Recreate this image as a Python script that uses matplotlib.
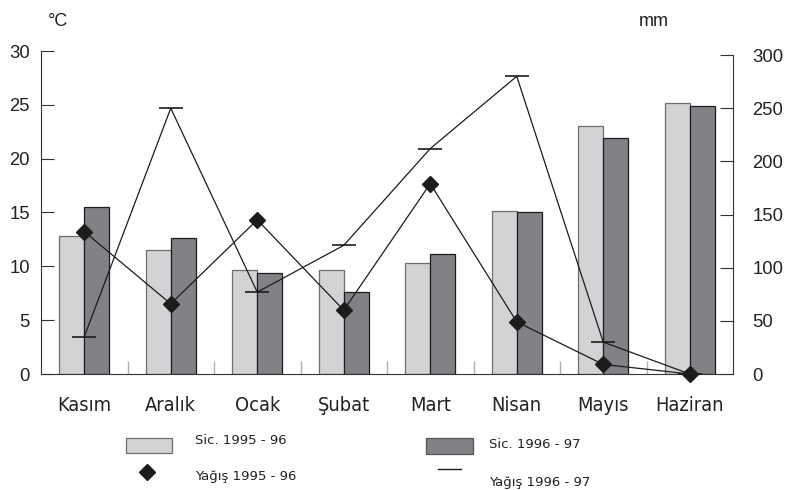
import matplotlib
matplotlib.use("Agg")
import matplotlib.pyplot as plt
import numpy as np
from matplotlib import font_manager
from matplotlib.lines import Line2D
from matplotlib.patches import Rectangle

# values
months = ["Kasım", "Aralık", "Ocak", "Şubat", "Mart", "Nisan", "Mayıs", "Haziran"]
temp_9596 = [12.8, 11.5, 9.7, 9.7, 10.3, 15.1, 23.0, 25.2]   # °C
temp_9697 = [15.5, 12.6, 9.4, 7.6, 11.1, 15.0, 21.9, 24.9]   # °C
rain_9596 = [134, 66, 145, 60, 179, 49, 9, 0]                # mm
rain_9697 = [35, 250, 77, 121, 212, 280, 30, 0]              # mm

LIGHT = "#d2d3d5"
DARK = "#818286"
INK = "#1c1c1c"
W, H = 788, 490

plt.rcParams["font.family"] = ["Liberation Sans", "DejaVu Sans"]


def fx(px):
    return px / W


def fy(py):
    return 1 - py / H


def month_font():
    # the month names are set in a narrow face; use one if the box has it
    for fam, stretch in (("Liberation Sans Narrow", "normal"), ("DejaVu Sans", "condensed")):
        try:
            path = font_manager.findfont(font_manager.FontProperties(family=fam, stretch=stretch),
                                         fallback_to_default=False)
        except ValueError:
            continue
        name = path.lower()
        if "narrow" in name or "condensed" in name:
            return font_manager.FontProperties(fname=path, size=14.3)
    return font_manager.FontProperties(family="Liberation Sans", size=13.5)


fig = plt.figure(figsize=(W / 100, H / 100), dpi=100)
ax = fig.add_axes([fx(41), fy(374), fx(733) - fx(41), fy(51) - fy(374)])
ax2 = ax.twinx()

x = np.arange(len(months))
bw = 0.29
ax.bar(x - bw / 2, temp_9596, bw, color=LIGHT, edgecolor="#6e6e6e", linewidth=0.9, zorder=2)
ax.bar(x + bw / 2, temp_9697, bw, color=DARK, edgecolor=INK, linewidth=0.9, zorder=2)

ax2.plot(x, rain_9697, color=INK, lw=0.9, marker="_", ms=17, mew=1.2, clip_on=False)
ax2.plot(x, rain_9596, color=INK, lw=0.9, marker="D", ms=8, mfc=INK, mec=INK, clip_on=False)

ax.set_xlim(-0.5, 7.5)
ax.set_ylim(0, 30)
ax2.set_ylim(0, 303.8)

for a in (ax, ax2):
    a.spines["top"].set_visible(False)
ax.spines["right"].set_visible(False)
ax2.spines["left"].set_visible(False)
ax2.spines["bottom"].set_visible(False)
ax.spines["left"].set_bounds(0, 30)
ax2.spines["right"].set_bounds(0, 300)
for sp in ("left", "bottom"):
    ax.spines[sp].set_color("#333333")
ax2.spines["right"].set_color("#333333")

ax.set_yticks(np.arange(0, 31, 5))
ax.tick_params(axis="y", direction="in", length=9.5, width=0.8, color="#333333",
               pad=8, labelsize=13.3, labelcolor="#222222")
ax2.set_yticks(np.arange(0, 301, 50))
ax2.tick_params(axis="y", direction="in", length=9.5, width=0.8, color="#333333",
                pad=14, labelsize=13.3, labelcolor="#222222")

ax.set_xticks(x)
ax.set_xticklabels(months, fontproperties=month_font())
ax.set_xticks(x[:-1] + 0.5, minor=True)
ax.tick_params(axis="x", which="major", length=0, pad=15.5, labelcolor="#222222")
ax.tick_params(axis="x", which="minor", direction="in", length=9.5, width=1.0, color="#b0b0b0")

fig.text(fx(48), fy(21), "°C", ha="left", va="center", size=13, color="#222222")
fig.text(fx(639), fy(22), "mm", ha="left", va="center", size=13, color="#222222")

# legend, laid out by hand like the original
leg_font = dict(size=9.5, va="center", ha="left", family="DejaVu Sans", color="#222222")
fig.add_artist(Rectangle((fx(126), fy(453)), fx(172) - fx(126), fy(438) - fy(453),
                         transform=fig.transFigure, facecolor=LIGHT, edgecolor="#6e6e6e", lw=0.9))
fig.text(fx(195), fy(440), "Sic. 1995 - 96", **leg_font)
fig.add_artist(Rectangle((fx(426), fy(454)), fx(473) - fx(426), fy(438) - fy(454),
                         transform=fig.transFigure, facecolor=DARK, edgecolor="#555555", lw=0.9))
fig.text(fx(489), fy(444), "Sic. 1996 - 97", **leg_font)
fig.add_artist(Line2D([fx(147)], [fy(472)], transform=fig.transFigure, marker="D", ms=8,
                      mfc=INK, mec=INK, ls="none"))
fig.text(fx(195), fy(476), "Yağış 1995 - 96", **leg_font)
fig.add_artist(Line2D([fx(438), fx(461)], [fy(469), fy(469)], transform=fig.transFigure,
                      color=INK, lw=1.0))
fig.text(fx(489), fy(482), "Yağış 1996 - 97", **leg_font)

fig.savefig("out.png", dpi=100)
